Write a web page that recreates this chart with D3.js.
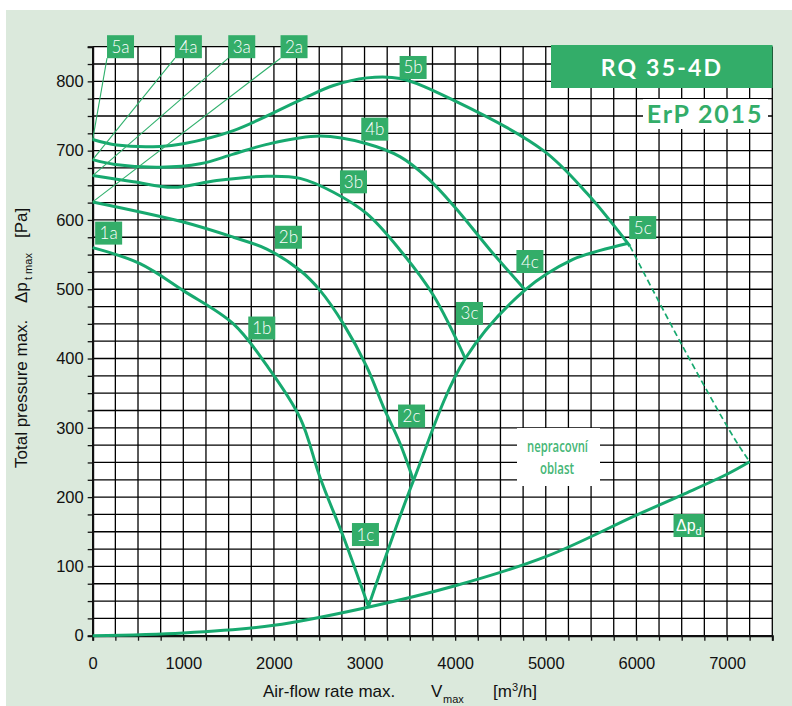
<!DOCTYPE html>
<html><head><meta charset="utf-8">
<script src="https://cdn.jsdelivr.net/npm/d3@7"></script>
<style>html,body{margin:0;padding:0;background:#fff}</style>
</head><body>
<svg id="c" width="792" height="706"></svg>
<script>
// ---- data ----
const xTickValues = [0,1000,2000,3000,4000,5000,6000,7000];
const yTickValues = [0,100,200,300,400,500,600,700,800];
const curve1 = [[0,560],[522,537],[1000,498],[1553,450],[1921,390],[2290,314],[2510,228],[2780,138],[3043,42]];
const curve2 = [[0,626],[1000,597],[1553,575],[1921,558],[2290,527],[2511,498],[2767,450],[3025,388],[3209,330],[3393,277],[3540,224]];
const curve3 = [[0,664],[449,655],[889,647],[1369,657],[1921,663],[2289,660],[2657,640],[3025,609],[3395,556],[3761,491],[4112,400]];
const curve4 = [[0,687],[246,680],[745,676],[1186,681],[1553,695],[1921,709],[2511,721],[3025,710],[3395,691],[3700,660],[4000,618],[4390,556],[4773,499]];
const curve5 = [[0,716],[265,708],[745,706],[1000,710],[1553,729],[2289,773],[2657,794],[3025,805],[3392,804],[3980,773],[4975,700],[5457,638],[5930,562]];
const curveC = [[3043,42],[3540,224],[4112,400],[4773,499],[5300,543],[5601,556],[5900,566]];
const curveDashed = [[5930,562],[6517,416],[7070,287],[7250,251]];
const curveDpd = [[0,0],[1000,4],[2000,15],[3000,40],[4000,72],[5000,114],[6000,174],[6500,203],[7000,233],[7250,251]];
// label anchors (data units) and texts
const labelNames = ["5a","4a","3a","2a","5b","4b","3b","2b","1a","1b","5c","4c","3c","2c","1c"];
const labelAt = [[307,850],[1056,850],[1645,850],[2222,850],[3536,820],[3113,731],[2878,655],[2160,575],[176,581],[1866,444],[6070,589],[4825,540],[4158,465],[3519,317],[3010,146]];
const leaderTargets = {"5a":curve5[0],"4a":curve4[0],"3a":curve3[0],"2a":curve2[0]};
const dpdLabelAt = [6581,159];

// ---- layout ----
const svg = d3.select("#c");
const W = 792, H = 706;
const x = d3.scaleLinear().domain([0,7500]).range([92.7,772.3]);
const y = d3.scaleLinear().domain([0,850]).range([635.7,46.7]);
const GREEN = "#33ad69", LINE = "#17a96f";

svg.append("rect").attr("x",6).attr("y",10).attr("width",W-6).attr("height",H-10).attr("fill","#dbe9dc");
svg.append("rect").attr("x",x(0)).attr("y",y(850)).attr("width",x(7500)-x(0)).attr("height",y(0)-y(850)).attr("fill","#fff");

// grid
const g = svg.append("g");
g.selectAll("line.v").data(d3.range(0,7501,250)).join("line")
  .attr("x1",d=>x(d)).attr("x2",d=>x(d)).attr("y1",y(0)).attr("y2",y(850))
  .attr("stroke","#000").attr("stroke-width",1.3);
g.selectAll("line.h").data(d3.range(0,851,25)).join("line")
  .attr("y1",d=>y(d)).attr("y2",d=>y(d)).attr("x1",x(0)).attr("x2",x(7500))
  .attr("stroke","#000").attr("stroke-width",1.3);

// white boxes over grid
svg.append("rect").attr("x",643).attr("y",99).attr("width",125).attr("height",30).attr("fill","#fff");
svg.append("rect").attr("x",517).attr("y",428).attr("width",83).attr("height",58).attr("fill","#fff");

// axes
const F = "Liberation Sans, Arial, sans-serif";
const xAxis = d3.axisBottom(x).tickValues(d3.range(0,7501,250)).tickSize(5)
  .tickFormat(d=> xTickValues.includes(d)? String(d) : "");
const ax = svg.append("g").attr("transform",`translate(0,${y(0)})`).call(xAxis);
ax.select(".domain").attr("stroke","#111").attr("stroke-width",2);
ax.selectAll(".tick line").attr("stroke","#111").attr("stroke-width",1.3);
ax.selectAll(".tick text").attr("font-family",F).attr("font-size",16.5).attr("fill","#111").attr("dy","1.55em");

const yAxis = d3.axisLeft(y).tickValues(d3.range(0,851,25)).tickSize(5)
  .tickFormat(d=> yTickValues.includes(d)? String(d) : "");
const ay = svg.append("g").attr("transform",`translate(${x(0)},0)`).call(yAxis);
ay.select(".domain").attr("stroke","#111").attr("stroke-width",2);
ay.selectAll(".tick line").attr("stroke","#111").attr("stroke-width",1.3);
ay.selectAll(".tick text").attr("font-family",F).attr("font-size",16.5).attr("fill","#111").attr("x",-9);

// curves
const line = d3.line().x(d=>x(d[0])).y(d=>y(d[1])).curve(d3.curveCatmullRom.alpha(0.5));
[curve1,curve2,curve3,curve4,curve5,curveC].forEach(c=>{
  svg.append("path").attr("d",line(c)).attr("fill","none").attr("stroke",LINE).attr("stroke-width",3).attr("stroke-linejoin","round");
});
svg.append("path").attr("d",line(curveDpd)).attr("fill","none").attr("stroke",LINE).attr("stroke-width",3);
svg.append("path").attr("d",line(curveDashed)).attr("fill","none").attr("stroke",LINE).attr("stroke-width",1.7).attr("stroke-dasharray","6,3.5");

// leader lines
const BW = 27, BH = 23;
labelNames.forEach((n,i)=>{
  if(leaderTargets[n]){
    const t = leaderTargets[n];
    svg.append("line").attr("x1",x(labelAt[i][0])-BW/2).attr("y1",y(labelAt[i][1])+BH/2)
      .attr("x2",x(t[0])).attr("y2",y(t[1])).attr("stroke","#2fb06c").attr("stroke-width",1.1);
  }
});
// label boxes
labelNames.forEach((n,i)=>{
  const cx = x(labelAt[i][0]), cy = y(labelAt[i][1]);
  svg.append("rect").attr("x",cx-BW/2).attr("y",cy-BH/2).attr("width",BW).attr("height",BH).attr("fill",GREEN);
  svg.append("text").attr("x",cx).attr("y",cy+6).attr("text-anchor","middle")
    .attr("font-family","Lato, 'Open Sans', sans-serif").attr("font-weight",300).attr("font-size",17).attr("fill","#fff").text(n);
});
{
  const cx = x(dpdLabelAt[0]), cy = y(dpdLabelAt[1]);
  svg.append("rect").attr("x",cx-15.5).attr("y",cy-BH/2).attr("width",31).attr("height",BH).attr("fill",GREEN);
  const t = svg.append("text").attr("x",cx-13).attr("y",cy+5).attr("font-family",F).attr("font-size",16).attr("fill","#fff");
  t.append("tspan").text("Δp");
  t.append("tspan").attr("font-size",11).attr("dy",4).text("d");
}

// title box
svg.append("rect").attr("x",551).attr("y",45).attr("width",221.5).attr("height",43).attr("fill",GREEN);
svg.append("text").attr("x",662).attr("y",76).attr("text-anchor","middle").attr("font-family","Lato, sans-serif").attr("font-weight",700).attr("font-size",23).attr("letter-spacing",2.2).attr("fill","#fff").text("RQ 35-4D");
svg.append("text").attr("x",705).attr("y",122.5).attr("text-anchor","middle").attr("font-family","Lato, sans-serif").attr("font-weight",700).attr("font-size",25).attr("letter-spacing",1.8).attr("fill",GREEN).text("ErP 2015");

// nepracovní oblast
svg.append("text").attr("x",527).attr("y",452).attr("textLength",61).attr("lengthAdjust","spacingAndGlyphs").attr("font-family","'Open Sans', sans-serif").attr("font-weight",600).attr("font-size",16).attr("fill","#45b676").text("nepracovní");
svg.append("text").attr("x",540).attr("y",474).attr("textLength",34).attr("lengthAdjust","spacingAndGlyphs").attr("font-family","'Open Sans', sans-serif").attr("font-weight",600).attr("font-size",16).attr("fill","#45b676").text("oblast");

// axis titles
const xt = svg.append("g").attr("font-family",F).attr("fill","#111");
xt.append("text").attr("x",263).attr("y",697).attr("font-size",17).text("Air-flow rate max.");
xt.append("text").attr("x",431).attr("y",697).attr("font-size",17).text("V");
xt.append("text").attr("x",443).attr("y",703).attr("font-size",11).text("max");
const mt = xt.append("text").attr("x",493).attr("y",697).attr("font-size",17);
mt.append("tspan").text("[m");
mt.append("tspan").attr("font-size",11).attr("dy",-6).text("3");
mt.append("tspan").attr("dy",6).text("/h]");

const yt = svg.append("g").attr("font-family",F).attr("fill","#111");
function rt(txt,px,py,fs){ return yt.append("text").attr("transform",`translate(${px},${py}) rotate(-90)`).attr("font-size",fs).text(txt); }
rt("Total pressure max.",27,468,17);
rt("Δp",27,303,17);
rt("t max",32,280,11);
rt("[Pa]",27,238,17);
</script>
</body></html>
